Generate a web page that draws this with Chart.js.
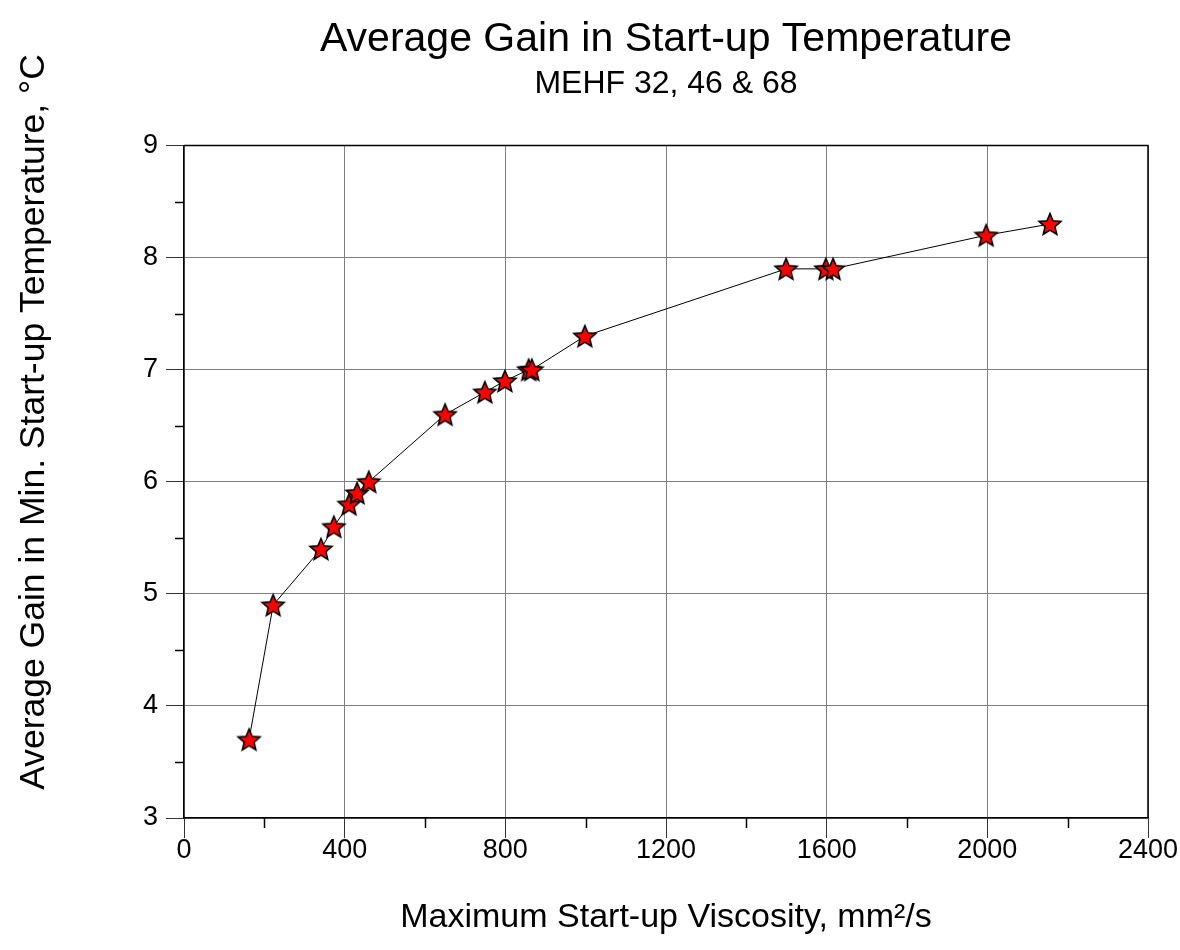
<!DOCTYPE html>
<html>
<head>
<meta charset="utf-8">
<script src="https://cdn.jsdelivr.net/npm/chart.js@4.4.1/dist/chart.umd.min.js"></script>
<style>
  html, body { margin: 0; padding: 0; background: #fff; }
  #wrap { width: 1180px; height: 950px; }
</style>
</head>
<body>
<div id="wrap"><canvas id="chart" width="1180" height="950"></canvas></div>
<script>
const viscosity = [162, 222, 341, 373, 411, 431, 460, 650, 749, 799, 858, 866, 998, 1499, 1598, 1616, 1997, 2156];
const gain = [3.7, 4.9, 5.4, 5.6, 5.8, 5.9, 6.0, 6.6, 6.8, 6.9, 7.0, 7.0, 7.3, 7.9, 7.9, 7.9, 8.2, 8.3];
const xMinorTicks = [200, 600, 1000, 1400, 1800, 2200];
const yMinorTicks = [3.5, 4.5, 5.5, 6.5, 7.5, 8.5];

const titleText = "Average Gain in Start-up Temperature";
const subtitleText = "MEHF 32, 46 & 68";
const xTitle = "Maximum Start-up Viscosity, mm²/s";
const yTitle = "Average Gain in Min. Start-up Temperature, °C";

const FONT = "'Liberation Sans', Arial, sans-serif";

// filled red star with black outline, used as the point style
function makeStar(size) {
  const c = document.createElement("canvas");
  c.width = size;
  c.height = size;
  const g = c.getContext("2d");
  const cx = size / 2, cy = size / 2 + 1;
  const outer = size / 2 - 1.5, inner = outer * 0.45;
  g.beginPath();
  for (let i = 0; i < 10; i++) {
    const r = i % 2 === 0 ? outer : inner;
    const a = -Math.PI / 2 + (i * Math.PI) / 5;
    const px = cx + r * Math.cos(a), py = cy + r * Math.sin(a);
    if (i === 0) g.moveTo(px, py); else g.lineTo(px, py);
  }
  g.closePath();
  g.fillStyle = "#ff0000";
  g.fill();
  g.lineWidth = 1.6;
  g.strokeStyle = "#000";
  g.stroke();
  return c;
}
const starImg = makeStar(26);

const framePlugin = {
  id: "frame",
  afterDraw(chart) {
    const { ctx, chartArea } = chart;
    const xs = chart.scales.x, ys = chart.scales.y;
    ctx.save();
    ctx.strokeStyle = "#000";
    ctx.lineWidth = 1.5;
    // top and right border
    ctx.beginPath();
    ctx.moveTo(chartArea.left, chartArea.top);
    ctx.lineTo(chartArea.right, chartArea.top);
    ctx.lineTo(chartArea.right, chartArea.bottom);
    ctx.stroke();
    // minor ticks
    ctx.beginPath();
    xMinorTicks.forEach((v) => {
      const px = Math.round(xs.getPixelForValue(v)) + 0.5;
      ctx.moveTo(px, chartArea.bottom);
      ctx.lineTo(px, chartArea.bottom + 10);
    });
    yMinorTicks.forEach((v) => {
      const py = Math.round(ys.getPixelForValue(v)) + 0.5;
      ctx.moveTo(chartArea.left - 9, py);
      ctx.lineTo(chartArea.left, py);
    });
    ctx.stroke();
    // rotated y axis title
    ctx.fillStyle = "#000";
    ctx.font = "35.5px " + FONT;
    ctx.textAlign = "center";
    ctx.textBaseline = "middle";
    ctx.translate(34, 422);
    ctx.rotate(-Math.PI / 2);
    ctx.fillText(yTitle, 0, 0);
    ctx.restore();
  },
};

new Chart(document.getElementById("chart"), {
  type: "scatter",
  data: {
    datasets: [
      {
        data: viscosity.map((v, i) => ({ x: v, y: gain[i] })),
        showLine: true,
        borderColor: "#000",
        borderWidth: 1,
        pointStyle: starImg,
        pointRadius: 13,
        pointHoverRadius: 13,
      },
    ],
  },
  options: {
    responsive: false,
    animation: false,
    layout: { padding: { left: 0, right: 32, top: 0, bottom: 0 } },
    plugins: {
      legend: { display: false },
      tooltip: { enabled: false },
      title: {
        display: true,
        text: titleText,
        fullSize: false,
        color: "#000",
        font: { family: FONT, size: 41, weight: "normal", lineHeight: 1.2 },
        padding: { top: 15, bottom: 1 },
      },
      subtitle: {
        display: true,
        text: subtitleText,
        fullSize: false,
        color: "#000",
        font: { family: FONT, size: 32, weight: "normal", lineHeight: 1.2 },
        padding: { top: 0, bottom: 42 },
      },
    },
    scales: {
      x: {
        type: "linear",
        min: 0,
        max: 2400,
        afterFit: (scale) => { scale.height = 132; },
        border: { color: "#000", width: 1.5 },
        grid: { color: "#808080", lineWidth: 1, tickLength: 20, tickColor: "#333" },
        ticks: {
          stepSize: 400,
          padding: -1,
          color: "#000",
          font: { family: FONT, size: 27, lineHeight: 1 },
          callback: (v) => String(v),
        },
        title: {
          display: true,
          text: xTitle,
          color: "#000",
          font: { family: FONT, size: 34, lineHeight: 1.2 },
          padding: { top: 0, bottom: 12 },
        },
      },
      y: {
        type: "linear",
        min: 3,
        max: 9,
        afterFit: (scale) => { scale.width = 184; },
        border: { color: "#000", width: 1.5 },
        grid: { color: "#808080", lineWidth: 1, tickLength: 18, tickColor: "#333" },
        ticks: {
          stepSize: 1,
          padding: 8,
          color: "#000",
          font: { family: FONT, size: 27 },
        },
      },
    },
  },
  plugins: [framePlugin],
});
</script>
</body>
</html>
